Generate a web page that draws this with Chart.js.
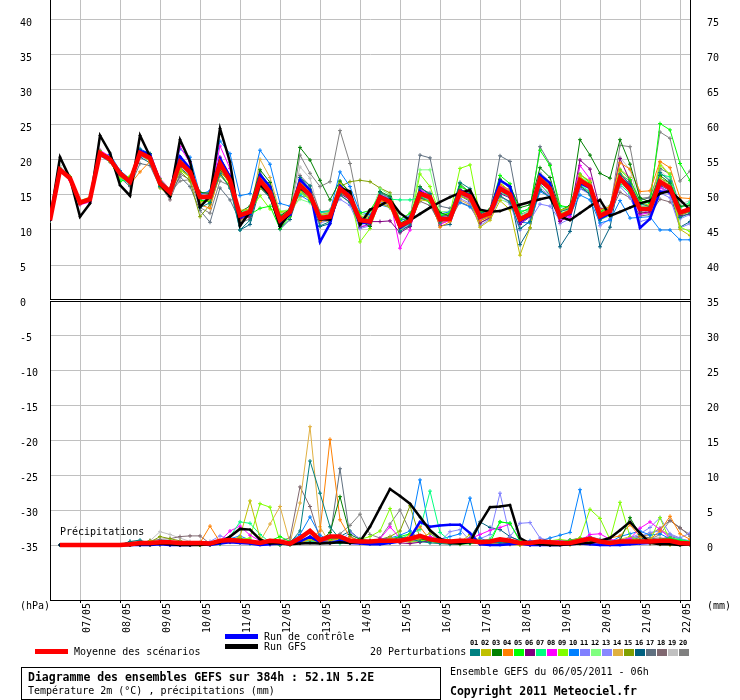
<!DOCTYPE html>
<html><head><meta charset="utf-8">
<script src="https://cdn.jsdelivr.net/npm/chart.js@4.4.0/dist/chart.umd.min.js"></script>
<style>
body{margin:0;background:#fff;}
#wrap{position:relative;width:740px;height:700px;overflow:hidden;font-family:"DejaVu Sans Mono",monospace;color:#000;}
#c{position:absolute;left:0;top:0;}
.t{position:absolute;font-size:10px;line-height:12px;white-space:pre;}
.b{font-weight:bold;font-size:11.5px;}
.bar{position:absolute;width:33px;height:5px;}
.sq{position:absolute;width:10px;height:7px;}
.num{position:absolute;font-size:7px;line-height:8px;font-weight:bold;width:11px;text-align:left;letter-spacing:-0.3px;}
#pleg{position:absolute;left:0;top:0;}
</style></head>
<body>
<div id="wrap">
<canvas id="c" width="740" height="700"></canvas>
<div class="t" style="left:60px;top:526px">Précipitations</div>
<div class="t" style="left:20px;top:600px">(hPa)</div>
<div class="t" style="left:707px;top:600px">(mm)</div>
<div class="bar" style="left:225px;top:634px;background:#0000ff"></div>
<div class="t" style="left:264px;top:631px">Run de contrôle</div>
<div class="bar" style="left:225px;top:644px;background:#000000"></div>
<div class="t" style="left:264px;top:641px">Run GFS</div>
<div class="bar" style="left:35px;top:649px;background:#ff0000"></div>
<div class="t" style="left:74px;top:646px">Moyenne des scénarios</div>
<div class="t" style="left:370px;top:646px">20 Perturbations</div>
<div id="pleg"></div>
<div style="position:absolute;left:21px;top:667px;width:418px;height:31px;border:1px solid #000"></div>
<div class="t b" style="left:28px;top:671px">Diagramme des ensembles GEFS sur 384h : 52.1N 5.2E</div>
<div class="t" style="left:28px;top:685px">Température 2m (°C) , précipitations (mm)</div>
<div class="t" style="left:450px;top:666px">Ensemble GEFS du 06/05/2011 - 06h</div>
<div class="t b" style="left:450px;top:685px">Copyright 2011 Meteociel.fr</div>
</div>
<script>
// ---- time axis (hours since 06/05 06h) ----
const hours = [0,6,12,18,24,30,36,42,48,54,60,66,72,78,84,90,96,102,108,114,120,126,132,138,144,150,156,162,168,174,180,186,192,198,204,210,216,222,228,234,240,246,252,258,264,270,276,282,288,294,300,306,312,318,324,330,336,342,348,354,360,366,372,378,384];
const dateTickHours = [18,42,66,90,114,138,162,186,210,234,258,282,306,330,354,378];
const dateLabels = ['07/05','08/05','09/05','10/05','11/05','12/05','13/05','14/05','15/05','16/05','17/05','18/05','19/05','20/05','21/05','22/05'];
const leftTicks = [40,35,30,25,20,15,10,5,0,-5,-10,-15,-20,-25,-30,-35];
const rightTicks = [75,70,65,60,55,50,45,40,35,30,25,20,15,10,5,0];
const pertNames = ['01','02','03','04','05','06','07','08','09','10','11','12','13','14','15','16','17','18','19','20'];

// ---- temperature 2m (°C) ----
const tMean = [11.4, 18.6,17.4,13.9,14.4,21.0,20.1,18.1,16.9, 21.0,20.3,16.7,15.4,19.7,18.3,14.7,14.7, 19.5,17.1,12.1,12.6,17.1,15.4,11.4,12.6, 16.4,15.0,11.7,11.9,15.9,14.7,11.4,11.2, 14.7,14.0,10.6,11.3,15.2,14.7,11.5,11.6, 15.4,14.8,11.9,12.4,15.9,15.1,11.5,12.3, 17.3,15.9,11.9,12.6,17.1,16.2,12.0,12.7, 17.4,15.8,13.0,13.0,16.9,16.0,12.5,13.0];
const tGfs = [11.4, 20.4,17.4,11.9,13.8,23.5,21.0,16.4,14.9, 23.5,20.5,16.5,14.8,22.9,19.8,13.3,14.8, 24.5,19.7,10.6,12.6,16.5,15.0,10.5,12.5, 16.0,15.0,11.5,11.5,16.0,15.5,10.8,12.9, 13.5,14.3,12.4,11.4,12.3,13.2,14.0,14.7, 15.3,15.7,12.9,12.6,12.7,13.2,13.6,14.0, 14.4,14.7,11.9,11.4,12.4,13.4,14.3,12.0, 12.6,13.2,13.8,14.2,15.2,15.6,14.3,12.9];
const tCtrl = [11.4, 18.5,17.3,13.8,14.3,20.8,20.0,17.9,16.8, 21.3,20.8,16.9,15.6,20.5,18.8,14.6,14.8, 20.2,17.6,11.8,12.3,17.9,16.2,11.0,12.2, 17.2,15.7,8.3,10.9,16.3,15.0,11.0,11.0, 14.9,14.2,10.3,11.2,15.5,14.6,11.4,11.6, 15.6,15.0,11.8,12.6,17.1,16.2,11.2,12.1, 17.9,16.7,11.8,12.4,16.7,16.0,11.7,12.3, 17.6,16.2,10.3,11.6,15.5,15.4,12.6,12.9];
const tP01 = [11.4, 18.7,17.3,13.8,14.6,20.9,20.0,18.3,16.6, 21.5,20.6,16.2,15.6,20.4,18.8,13.2,13.9, 18.1,16.0,10.0,11.4,16.3,14.6,10.5,12.2, 17.5,16.3,10.6,11.2,15.0,13.9,10.6,11.8, 15.4,14.6,9.8,10.7,16.0,15.2,11.0,12.2, 16.8,15.9,12.4,12.8,14.9,14.0,10.2,11.2, 15.8,14.6,12.6,13.1,16.4,15.0,11.4,12.3, 18.0,16.6,13.8,13.3,18.2,17.0,11.8,12.4];
const tP02 = [11.4, 18.5,17.5,14.1,14.5,21.2,20.3,17.6,16.8, 20.8,19.8,16.0,14.9,18.8,17.5,14.0,14.2, 18.9,16.5,12.8,13.0,16.0,14.8,11.0,12.3, 15.5,14.4,12.2,12.5,16.6,15.2,12.0,11.6, 13.8,13.2,10.2,11.0,14.3,14.1,11.4,11.7, 14.8,14.3,10.4,11.4,14.2,12.9,6.4,10.3, 17.6,16.7,12.8,13.3,17.9,17.0,12.4,13.0, 18.4,16.3,13.9,13.5,17.5,16.3,10.1,9.2];
const tP03 = [11.4, 18.6,17.4,14.0,14.3,21.1,20.4,17.9,17.0, 21.3,20.9,16.3,15.2,20.3,18.6,15.4,15.2, 18.7,16.6,12.6,13.4,18.6,16.8,12.0,13.0, 21.8,20.0,17.1,14.3,17.0,15.3,11.3,10.5, 15.5,14.8,10.9,11.8,16.2,15.0,12.5,12.0, 16.6,15.3,12.3,13.0,17.2,16.2,13.2,13.6, 18.9,17.5,12.8,13.5,22.9,20.7,18.1,17.4, 22.9,19.4,14.6,14.0,17.8,16.7,13.4,13.5];
const tP04 = [11.4, 18.4,17.2,13.7,14.2,20.7,19.9,17.8,16.5, 18.3,19.8,17.1,15.9,19.3,17.8,13.6,13.1, 18.3,16.8,12.4,12.9,17.8,15.9,11.6,12.8, 16.0,14.5,11.2,12.1,16.6,15.0,10.9,11.0, 14.2,13.6,10.7,11.5,15.0,14.4,10.4,11.2, 15.6,14.6,11.3,11.9,16.5,15.7,11.6,12.4, 16.9,16.1,11.9,12.8,17.4,16.4,12.9,13.3, 19.6,18.7,15.5,15.6,19.8,18.9,14.6,14.5];
const tP05 = [11.4, 18.8,17.6,14.0,14.5,21.3,20.0,16.9,17.5, 21.4,20.5,17.3,15.6,19.9,18.5,14.3,14.0, 19.1,17.4,12.3,12.2,13.1,13.4,10.2,11.9, 15.8,14.2,11.3,12.0,15.4,14.6,12.4,12.8, 15.0,14.2,11.5,12.4,14.8,14.0,12.0,12.4, 16.2,15.5,12.6,12.8,17.8,16.6,12.4,13.2, 21.4,19.2,13.5,13.2,18.0,16.8,12.6,13.4, 18.6,17.2,14.2,13.8,25.2,24.3,19.5,17.1];
const tP06 = [11.4, 18.5,17.3,13.9,14.4,21.0,20.2,18.2,17.1, 20.7,20.1,17.0,15.5,19.2,17.9,14.8,15.1, 20.4,17.8,11.6,11.9,16.6,15.1,11.2,12.0, 16.1,14.7,11.6,11.4,15.2,14.3,11.8,11.2, 11.2,11.3,9.6,10.5,14.6,14.1,11.9,12.1, 15.8,15.1,11.0,11.8,15.2,14.6,10.8,11.9, 16.8,15.6,11.2,12.3,20.0,18.7,13.0,13.2, 20.2,17.0,12.4,12.6,16.4,15.6,12.0,12.3];
const tP07 = [11.4, 18.7,17.5,14.0,14.5,21.1,20.2,17.2,16.8, 21.2,20.4,16.5,15.1,20.1,18.1,14.1,14.4, 19.8,17.5,12.6,12.9,16.9,15.6,12.1,12.6, 15.2,14.5,12.5,12.7,16.4,14.8,11.9,11.5, 14.5,14.4,14.3,14.3,14.6,13.9,12.3,12.0, 15.0,14.7,12.5,12.9,15.3,14.8,12.7,12.9, 17.6,16.0,13.3,13.3,16.4,15.5,12.2,12.6, 16.5,15.2,13.6,14.0,17.9,17.6,13.2,14.0];
const tP08 = [11.4, 18.5,17.1,13.6,14.0,21.4,20.5,18.0,16.9, 21.1,20.6,17.4,15.8,21.9,19.6,14.4,14.6, 22.0,18.8,12.0,12.3,16.8,15.2,10.8,12.4, 16.6,15.3,11.2,12.4,16.2,14.9,10.5,10.7, 14.9,14.4,7.4,10.0,15.8,15.0,10.8,11.4, 15.2,14.3,11.6,12.3,16.3,15.4,11.0,12.0, 16.9,15.8,11.3,11.9,19.2,17.3,12.3,13.0, 17.7,15.9,12.2,12.5,16.0,15.3,12.8,12.9];
const tP09 = [11.4, 18.6,17.6,14.2,14.7,20.8,19.8,17.3,17.7, 21.0,20.0,16.4,15.2,18.6,17.5,14.5,14.9, 18.1,16.3,12.8,12.6,14.9,13.0,12.6,12.8, 16.8,15.6,11.9,12.3,16.9,15.3,8.3,10.2, 14.4,13.5,10.1,11.0,18.0,16.2,12.2,12.4, 18.8,19.3,12.0,12.6,17.0,15.2,11.8,12.6, 17.8,16.3,12.3,12.9,17.6,16.6,12.9,13.2, 17.0,15.8,12.5,12.4,19.2,18.0,10.4,9.8];
const tP10 = [11.4, 18.4,17.4,13.8,14.3,20.6,20.8,18.5,17.3, 21.6,20.9,17.0,15.9,21.6,20.4,15.1,15.6, 22.7,20.9,14.9,15.2,21.4,19.4,13.8,13.4, 15.0,14.1,12.6,12.6,18.3,16.2,12.6,12.2, 13.6,13.2,11.3,11.9,15.2,14.4,12.3,12.6, 13.9,13.3,12.1,12.3,15.6,14.7,11.1,11.0, 15.5,14.7,11.8,12.2,15.0,14.3,11.0,11.4, 14.2,11.7,11.8,11.9,10.0,10.0,8.6,8.6];
const tP11 = [11.4, 18.6,17.3,14.0,14.6,20.9,20.1,18.0,16.7, 20.6,20.0,16.8,15.3,19.4,18.2,15.0,14.9, 19.6,17.2,11.8,12.2,17.3,15.5,11.1,12.3, 16.0,14.5,12.4,12.8,14.4,13.5,10.2,10.6, 14.0,13.6,11.6,12.0,14.8,14.3,11.2,11.5, 14.5,13.8,10.6,11.6,15.0,13.7,10.0,11.4, 13.7,13.4,11.4,12.2,15.9,15.1,11.7,12.2, 16.2,14.7,11.2,11.6,15.3,14.6,10.3,10.9];
const tP12 = [11.4, 18.7,17.4,13.9,14.3,21.2,20.3,18.4,17.2, 21.0,20.2,16.6,15.1,19.9,18.4,14.9,15.0, 19.0,17.0,12.4,12.8,17.6,15.8,12.7,12.9, 14.4,13.9,12.2,12.4,16.0,14.8,12.2,12.1, 15.9,15.0,11.0,11.8,18.6,18.6,12.6,12.7, 16.2,15.4,12.2,12.7,14.4,13.8,12.0,12.9, 16.4,15.3,12.6,13.2,17.9,16.6,11.5,12.0, 16.9,15.4,13.3,13.4,16.6,15.8,13.1,13.8];
const tP13 = [11.4, 18.5,17.5,14.1,14.4,20.8,20.0,18.1,17.0, 21.2,20.5,16.9,15.6,19.6,18.4,14.6,14.3, 19.2,17.0,12.2,12.7,16.7,15.0,11.5,12.5, 16.9,15.5,11.0,11.5,15.6,14.2,11.6,11.4, 15.1,14.3,9.9,10.9,15.5,15.0,11.3,11.3, 15.1,14.4,12.3,12.6,16.0,15.4,12.2,12.5, 16.0,14.9,10.9,11.6,16.5,15.8,10.6,11.6, 16.8,15.4,12.3,12.9,16.3,15.1,11.6,12.2];
const tP14 = [11.4, 18.6,17.3,13.8,14.5,21.0,20.2,17.9,16.8, 21.2,20.3,16.6,15.2,20.0,18.1,14.9,14.4, 19.8,16.6,11.4,11.9,20.1,17.5,12.5,12.4, 14.7,14.9,11.1,11.3,15.2,14.5,11.7,11.9, 14.8,14.3,10.4,11.1,15.0,14.8,11.0,11.4, 14.3,13.6,11.4,12.0,16.5,15.5,11.3,12.1, 17.7,16.3,12.6,13.3,17.3,16.0,11.8,12.5, 18.7,17.5,13.2,13.6,19.6,17.7,12.7,13.2];
const tP15 = [11.4, 18.6,17.5,14.0,14.4,21.0,20.0,18.2,17.2, 20.9,20.1,16.5,15.0,18.4,17.0,11.9,13.6, 17.8,16.2,12.3,12.5,16.5,15.0,11.9,12.6, 16.3,15.0,12.6,12.8,16.2,16.9,17.1,16.9, 16.0,15.3,11.4,11.7,14.9,14.3,11.4,11.8, 15.6,15.2,12.1,12.5,16.1,15.3,11.9,12.4, 17.1,15.8,12.0,12.6,17.3,16.4,12.6,13.0, 17.6,16.1,13.4,13.1,17.4,16.7,12.1,12.6];
const tP16 = [11.4, 18.4,17.2,13.7,14.2,20.8,19.9,17.8,16.4, 20.4,19.6,16.3,14.8,18.9,17.7,14.2,14.1, 19.0,16.7,10.0,10.8,16.0,14.7,10.1,11.5, 15.8,14.4,10.5,10.9,15.4,14.4,10.4,10.8, 14.6,13.8,10.2,10.5,14.6,14.0,10.6,10.8, 14.9,14.1,11.4,12.0,16.5,15.3,7.9,10.3, 16.6,15.0,7.6,9.8,16.0,15.2,7.6,10.4, 17.6,16.4,12.6,12.4,16.2,15.3,10.4,11.2];
const tP17 = [11.4, 18.5,17.3,13.9,14.3,20.6,19.7,17.5,16.2, 19.5,19.2,16.1,15.0,17.6,16.2,12.8,11.1, 16.0,14.3,11.3,12.0,18.3,16.0,11.8,12.4, 17.5,15.8,12.0,12.3,15.8,14.6,11.6,11.5, 14.0,13.6,10.8,11.6,20.7,20.3,13.4,13.1, 14.8,14.4,12.5,12.8,20.6,19.8,12.2,12.8, 21.9,19.4,12.8,12.9,16.0,15.2,12.4,12.9, 18.0,17.0,14.3,14.6,18.8,18.0,13.3,13.6];
const tP18 = [11.4, 18.6,17.4,14.0,14.5,20.9,20.0,18.0,16.9, 20.8,20.2,16.4,14.3,18.0,17.2,15.1,15.4, 18.2,16.0,11.0,11.6,16.2,14.6,11.4,12.2, 17.8,16.3,12.6,12.6,15.0,14.0,11.1,11.2, 13.8,13.4,10.8,11.5,14.1,13.5,10.9,11.4, 14.0,13.4,11.0,11.7,14.7,14.1,11.3,12.0, 15.7,14.8,11.6,12.3,16.2,15.4,11.8,12.4, 15.4,14.6,12.0,12.2,14.4,14.0,12.3,12.6];
const tP19 = [11.4, 19.2,17.6,14.1,14.6,20.8,19.8,17.7,16.6, 20.9,20.2,16.9,15.9,18.8,17.6,14.3,14.1, 18.6,16.9,12.4,12.9,17.0,15.7,12.3,12.8, 19.0,17.4,12.1,12.5,16.8,15.6,12.3,12.1, 14.2,14.0,11.6,12.2,15.7,15.4,11.8,12.0, 15.9,15.1,12.2,12.8,16.2,15.6,12.6,13.0, 18.2,16.9,12.4,12.8,17.6,16.3,13.2,13.5, 20.4,18.6,13.6,13.3,18.5,17.1,13.7,14.2];
const tP20 = [11.4, 18.9,17.5,14.1,14.6,20.9,20.0,18.0,16.8, 20.6,19.9,16.6,15.3,17.0,17.2,13.2,12.4, 17.0,16.3,11.6,12.3,16.6,14.8,11.1,12.1, 20.7,18.1,16.2,16.9,24.2,19.5,12.4,11.8, 15.3,14.4,10.9,11.5,14.8,14.3,12.1,12.0, 15.1,14.4,11.5,12.1,17.3,15.9,11.7,12.3, 18.0,16.3,12.0,12.5,17.2,16.1,12.6,12.8, 22.1,21.9,14.5,14.7,24.0,23.1,17.0,18.4];

// ---- precipitation (mm / 6h) ----
const pMean = [null, 0,0,0,0,0,0,0,0.1, 0.3,0.3,0.4,0.4,0.3,0.3,0.3,0.2, 0.6,0.7,0.6,0.5,0.3,0.6,0.5,0.2, 1.0,2.0,0.7,1.2,1.2,0.6,0.5,0.5, 0.6,0.6,0.6,0.9,1.3,0.8,0.6,0.5, 0.6,0.6,0.4,0.5,0.8,0.6,0.3,0.3, 0.5,0.4,0.3,0.3,0.6,0.9,0.5,0.3, 0.5,0.5,0.5,0.5,0.6,0.6,0.3,0.2];
const pGfs = [null, 0,0,0,0,0,0,0,0, 0.1,0.1,0.2,0.1,0,0,0,0.1, 0.4,1.2,2.3,2.2,0.8,0.2,0.3,0.1, 0.2,0.3,0.2,0.3,0.4,0.3,0.5,2.6, 5.3,8.0,7.0,5.9,4.0,2.1,0.9,0.3, 0.2,0.4,3.1,5.4,5.5,5.7,1.0,0.2, 0.1,0,0,0.1,0.2,0.3,0.6,1.0, 2.1,3.3,1.7,0.3,0.1,0.1,0,0.1];
const pCtrl = [null, 0,0,0,0,0,0,0,0, 0,0,0.1,0,0,0,0.1,0, 0.2,0.4,0.3,0.2,0,0.1,0.2,0.1, 0.5,1.2,0.4,0.3,0.6,0.3,0.2,0.1, 0.1,0.3,0.5,1.0,3.3,2.6,2.8,2.9, 2.9,1.7,0.1,0,0,0.1,0.2,0, 0,0,0,0.1,0.2,0.1,0,0, 0,0.1,0.2,0.3,0.5,0.6,0.3,0.1];
const pP01 = [null, 0,0,0,0,0,0,0,0.5, 0.7,0.2,0.1,0,0,0.2,0.3,0.1, 0.5,0.8,0.4,0.2,0.3,0.1,0,0.3, 2.0,12.0,7.4,2.6,0.8,0.3,0.5,0.4, 0.2,0.6,1.1,0.9,0.5,0.3,0.2,0.1, 0.2,0.3,0.6,0.4,0.3,0.2,0.1,0, 0,0.1,0.3,0.2,0.5,0.8,0.4,0.3, 0.2,0.5,0.7,0.6,0.4,0.2,0.3,0.1];
const pP02 = [null, 0,0,0,0,0,0,0,0, 0.2,0.6,0.4,0.3,0.2,0.1,0,0, 0.3,0.6,1.2,6.3,1.0,0.2,0,0.4, 0.5,0.8,0.3,0.6,0.9,0.4,0.2,0.3, 0.5,1.0,0.8,0.6,0.9,1.7,0.5,0.3, 0.4,1.5,0.6,0.3,0.2,0.1,0,0.2, 0.5,0.3,0.1,0,0.2,0.4,0.3,0.2, 0.1,0.3,0.5,0.2,0.1,0,0.2,0.1];
const pP03 = [null, 0,0,0,0,0,0,0,0, 0,0.1,0.3,0.2,0.1,0,0,0.1, 0.2,0.5,0.4,0.3,0.2,0.3,0.1,0, 0.6,1.2,0.5,1.8,6.9,1.5,0.8,0.6, 0.4,0.3,0.5,0.7,0.9,0.6,0.8,0.5, 0.4,0.3,0.2,0.3,0.5,0.3,0.2,0.1, 0.1,0,0.2,0.3,0.5,0.6,0.4,0.3, 0.6,3.9,1.5,0.4,0.2,0.1,0,0];
const pP04 = [null, 0,0,0,0,0,0,0,0, 0,0,0.1,0.2,0.1,0,0.3,2.7, 0.4,0.5,0.6,0.3,0.2,0.4,0.1,0.2, 0.3,0.8,2.0,15.1,3.6,1.1,0.6,0.4, 0.3,0.5,0.6,1.4,2.6,0.7,0.4,0.3, 0.2,0.4,0.6,0.3,0.2,0.1,0,0.1, 0.2,0.3,0.2,0.4,0.8,0.6,0.5,1.0, 1.3,2.9,1.2,0.8,2.0,4.1,1.6,0.8];
const pP05 = [null, 0,0,0,0,0,0,0,0, 0,0,0.2,0.4,0.2,0.1,0,0, 0.2,0.6,1.0,0.4,0.3,0.6,1.2,0.5, 0.4,0.9,0.6,0.8,1.0,0.4,0.3,0.2, 0.4,0.8,1.2,1.6,1.0,0.5,0.3,0.2, 0.1,0.2,0.4,0.3,3.3,3.1,0.6,0.2, 0.1,0.2,0.4,0.6,0.8,1.0,0.6,0.4, 0.3,0.5,0.6,0.4,0.8,1.0,0.6,0.5];
const pP06 = [null, 0,0,0,0,0,0,0,0, 0.1,0.2,0.1,0,0,0.1,0.2,0.1, 0.3,0.5,0.7,0.4,0.2,0.1,0.2,0.3, 0.5,0.9,0.4,0.3,0.5,0.3,0.4,0.6, 0.8,0.5,0.3,0.2,0.4,0.6,0.3,0.2, 0.3,0.5,0.2,0.1,0.2,0.4,0.3,0.1, 0,0.1,0.2,0.3,0.6,0.4,0.2,0.1, 0.2,0.4,0.3,0.2,0.3,0.5,0.4,0.3];
const pP07 = [null, 0,0,0,0,0,0,0,0, 0,0,0.1,0.3,0.2,0.1,0,0.1, 0.4,1.2,3.3,3.1,1.5,0.4,0.2,0.3, 0.5,0.6,0.4,0.3,0.2,0.4,0.6,0.5, 0.3,0.5,0.8,1.6,2.2,7.7,1.8,0.6, 0.3,0.4,0.5,0.8,3.3,3.1,0.5,0.3, 0.2,0.4,0.5,0.6,0.7,0.5,0.3,0.2, 0.3,0.4,0.6,0.8,0.5,1.0,0.8,0.5];
const pP08 = [null, 0,0,0,0,0,0,0,0, 0,0.1,0.2,0.1,0,0,0.1,0.2, 0.6,2.0,2.7,1.4,0.6,0.3,0.2,0.4, 0.6,0.8,0.5,0.7,0.9,0.6,0.4,0.5, 0.9,2.6,1.0,0.6,0.8,1.2,0.8,0.5, 0.4,0.9,1.5,2.1,2.5,3.0,0.8,0.4, 0.3,0.5,0.6,0.4,0.6,1.5,1.6,0.8, 0.6,0.9,2.4,3.3,2.2,1.0,0.6,0.4];
const pP09 = [null, 0,0,0,0,0,0,0,0, 0,0,0.2,0.5,0.3,0.1,0,0.1, 0.3,0.6,0.8,1.0,5.9,5.4,0.5,0.3, 0.4,0.7,0.6,0.5,0.4,0.3,0.8,1.2, 2.0,5.2,0.9,0.5,0.6,0.8,0.4,0.3, 0.2,0.3,0.4,0.5,0.7,0.4,0.3,0.2, 0.3,0.6,0.8,0.6,1.0,5.1,3.8,0.8, 6.1,1.2,0.6,0.5,3.9,0.6,0.4,0.3];
const pP10 = [null, 0,0,0,0,0,0,0,0, 0,0.1,0.2,0.3,0.2,0.1,0.1,0.2, 0.5,0.9,1.3,0.7,0.4,0.3,0.2,0.5, 1.5,4.0,1.4,0.6,0.5,0.4,0.3,0.5, 0.8,1.0,1.4,2.0,9.3,1.6,0.8,1.2, 1.6,6.7,1.0,0.4,0.3,0.2,0.4,0.6, 0.6,1.0,1.4,1.8,7.9,0.9,0.6,0.4, 1.2,1.6,2.0,1.4,1.6,0.9,0.5,0.3];
const pP11 = [null, 0,0,0,0,0,0,0,0, 0,0,0.1,0.2,0.3,0.2,0.1,0, 0.2,0.8,1.0,0.5,0.3,0.2,0.4,0.6, 0.8,0.6,0.4,0.5,0.6,1.8,0.9,0.5, 0.4,0.6,0.8,0.5,0.6,0.9,0.7,0.4, 0.3,0.5,0.9,1.5,7.4,1.2,3.1,3.2, 1.0,0.6,0.5,0.4,0.6,0.8,0.5,0.4, 0.6,1.0,1.6,2.5,3.9,1.6,1.0,1.7];
const pP12 = [null, 0,0,0,0,0,0,0,0, 0,0.1,0.3,0.2,0.1,0,0,0, 0.1,0.4,0.6,0.5,0.3,0.4,0.2,0.3, 0.5,0.8,0.6,0.4,0.5,0.7,0.4,0.3, 0.5,0.7,0.6,0.8,1.2,0.9,0.5,0.4, 0.3,0.5,0.4,0.6,0.8,0.5,0.3,0.2, 0.3,0.4,0.6,0.5,0.7,0.9,0.6,0.4, 0.5,0.7,0.8,0.6,0.8,0.7,0.5,0.4];
const pP13 = [null, 0,0,0,0,0,0,0,0, 0,0,0.1,0.2,0.4,0.3,0.2,0.5, 1.3,0.8,0.6,0.4,0.5,0.3,0.2,0.3, 0.4,0.6,0.8,1.0,0.6,0.4,0.3,0.5, 0.6,0.4,0.5,0.9,1.3,0.8,0.5,1.9, 2.2,0.6,0.4,0.3,0.4,0.6,0.5,0.3, 0.2,0.4,0.6,0.5,0.8,1.1,0.7,0.5, 0.6,0.9,1.2,1.8,2.0,1.4,0.9,0.6];
const pP14 = [null, 0,0,0,0,0,0,0,0, 0,0,0,0.1,0.2,0.1,0,0.3, 0.5,0.4,0.3,0.6,0.5,3.0,5.5,0.3, 6.0,16.9,2.6,0.2,0.5,0.8,0.4,0.3, 0.5,0.9,0.6,0.4,0.7,1.0,0.6,0.4, 0.3,0.5,0.8,0.6,0.4,0.3,0.2,0.1, 0.2,0.3,0.5,0.4,0.6,0.8,0.6,0.5, 0.8,1.2,0.9,1.6,2.2,1.5,0.8,0.5];
const pP15 = [null, 0,0,0,0,0,0,0,0, 0.1,0.4,1.2,0.9,0.6,0.3,0.2,0.1, 0.3,0.5,0.7,0.4,0.6,0.3,0.2,0.4, 0.6,1.0,0.8,0.5,0.4,0.6,0.3,0.4, 0.8,1.2,2.0,5.6,1.0,0.6,0.4,0.3, 0.2,0.4,0.6,0.8,0.5,0.3,0.4,0.2, 0.3,0.5,0.4,0.6,0.9,0.7,0.5,0.3, 0.5,0.8,0.6,0.4,0.6,0.9,0.7,0.4];
const pP16 = [null, 0,0,0,0,0,0,0,0.5, 0.3,0.6,0.4,0.2,0.1,0.2,0.3,0.2, 0.4,0.6,0.5,0.3,0.2,0.4,0.3,0.2, 0.5,0.8,1.0,0.6,1.2,2.0,0.8,0.5, 0.4,0.6,0.5,0.7,0.9,1.1,0.6,0.4, 0.5,1.0,3.3,2.5,2.2,1.2,0.6,0.3, 0.2,0.4,0.6,0.5,0.8,1.0,0.7,0.4, 0.6,0.8,1.0,0.7,0.5,0.6,0.4,0.3];
const pP17 = [null, 0,0,0,0,0,0,0,0, 0,0.1,0.2,0.3,0.2,0.1,0,0.1, 0.3,0.5,0.4,0.6,0.4,0.3,0.5,0.4, 0.6,0.9,0.5,1.0,10.9,1.2,0.6,0.4, 0.5,0.8,1.2,0.9,0.6,0.5,0.4,0.6, 0.8,0.5,0.4,0.3,0.5,0.7,0.4,0.3, 0.2,0.4,0.5,0.7,1.0,0.8,0.6,0.5, 0.7,0.9,1.3,1.0,0.8,1.2,0.9,0.5];
const pP18 = [null, 0,0,0,0,0,0,0,0, 0.3,0.6,0.8,0.9,1.2,1.3,1.3,0.2, 0.3,0.5,0.4,0.3,0.5,0.4,0.6,1.0, 8.3,5.5,0.8,0.4,0.6,0.5,0.4,0.3, 0.5,0.7,0.6,0.4,0.5,0.8,0.6,0.4, 0.3,0.4,0.6,0.5,0.4,0.3,0.2,0.3, 0.4,0.6,0.5,0.7,0.9,1.2,0.8,0.6, 0.7,1.0,1.2,1.5,2.4,3.5,2.4,1.5];
const pP19 = [null, 0,0,0,0,0,0,0,0, 0.2,0.6,1.9,1.5,1.0,0.5,0.3,0.2, 0.4,0.6,0.5,0.4,0.3,0.5,0.4,0.3, 0.5,0.7,0.6,0.4,0.5,0.6,0.8,0.5, 0.4,0.6,0.8,0.5,0.4,0.6,0.5,0.3, 0.4,0.5,0.6,0.4,0.3,0.5,0.4,0.3, 0.2,0.4,0.5,0.6,0.8,0.7,0.5,0.4, 0.6,0.8,0.7,0.9,1.1,0.8,0.6,0.4];
const pP20 = [null, 0,0,0,0,0,0,0,0, 0.1,0.3,0.5,0.4,0.3,0.2,0.1,0.2, 0.4,0.6,0.5,0.3,0.4,0.5,0.3,0.4, 0.6,0.8,0.5,0.7,1.6,2.8,4.4,1.5, 1.0,3.0,5.0,2.0,0.8,0.6,0.4,0.3, 0.5,0.8,0.6,0.4,0.5,1.2,0.6,0.3, 0.4,0.6,0.5,0.7,0.8,1.0,0.7,0.5, 0.6,0.9,1.1,0.8,1.5,3.5,2.5,1.2];

const tPerts = [tP01,tP02,tP03,tP04,tP05,tP06,tP07,tP08,tP09,tP10,tP11,tP12,tP13,tP14,tP15,tP16,tP17,tP18,tP19,tP20];
const pPerts = [pP01,pP02,pP03,pP04,pP05,pP06,pP07,pP08,pP09,pP10,pP11,pP12,pP13,pP14,pP15,pP16,pP17,pP18,pP19,pP20];
const pertColors = ['#008080','#c0c000','#008000','#ff8000','#00ff00','#800080','#00ff80','#ff00ff','#80ff00','#0080ff','#8080ff','#80ff80','#8888ff','#e0b040','#80a000','#006080','#607080','#806870','#c0c0c0','#808080'];

// legend squares
const pleg = document.getElementById('pleg');
pertNames.forEach((n,i)=>{
  const s=document.createElement('div'); s.className='sq';
  s.style.left=(470+11*i)+'px'; s.style.top='649px'; s.style.background=pertColors[i]; pleg.appendChild(s);
  const t=document.createElement('div'); t.className='num'; t.textContent=n;
  t.style.left=(470+11*i)+'px'; t.style.top='639px'; pleg.appendChild(t);
});

function series(values, axis, color, width, order, radius){
  return {
    data: values.map((v,i)=>({x: hours[i], y: v})),
    yAxisID: axis, borderColor: color, backgroundColor: color,
    borderWidth: width, pointRadius: radius, pointStyle: 'cross',
    pointBorderColor: color, pointBorderWidth: 1, pointHoverRadius: 0,
    tension: 0, fill: false, order: order
  };
}
const datasets = [];
datasets.push(series(tMean,'y','#ff0000',4.5,0,0));
datasets.push(series(pMean,'y2','#ff0000',4.5,0,0));
datasets.push(series(tGfs,'y','#000000',2.5,1,1.5));
datasets.push(series(pGfs,'y2','#000000',2.5,1,1.5));
datasets.push(series(tCtrl,'y','#0000ff',2.5,2,1.5));
datasets.push(series(pCtrl,'y2','#0000ff',2.5,2,1.5));
tPerts.forEach((d,i)=>datasets.push(series(d,'y',pertColors[i],1,3+i,2)));
pPerts.forEach((d,i)=>datasets.push(series(d,'y2',pertColors[i],1,3+i,2)));

const FONT = {family:'"DejaVu Sans Mono", monospace', size:10};
const separator = {
  id:'separator',
  afterDatasetsDraw(chart){
    const {ctx, chartArea:{left,right}} = chart;
    const y = Math.round(chart.scales.y.getPixelForValue(0));
    ctx.save();
    ctx.fillStyle='#ffffff'; ctx.fillRect(left, y-1, right-left, 3);
    ctx.fillStyle='#000000'; ctx.fillRect(left, y-1, right-left, 1); ctx.fillRect(left, y+1, right-left, 1);
    ctx.restore();
  }
};
function noPadV(s){ s.paddingTop = 0; s.paddingBottom = 0; }

new Chart(document.getElementById('c'), {
  type:'line',
  data:{datasets},
  plugins:[separator],
  options:{
    responsive:false, animation:false, devicePixelRatio:1,
    layout:{autoPadding:false, padding:{left:20,top:0,right:0,bottom:0}},
    plugins:{legend:{display:false}, tooltip:{enabled:false}},
    events:[],
    scales:{
      x:{type:'linear', min:0, max:384,
        afterBuildTicks:(s)=>{ s.ticks = dateTickHours.map(v=>({value:v})); },
        afterFit:(s)=>{ s.height = 100; s.paddingLeft = 0; s.paddingRight = 0; },
        ticks:{autoSkip:false, minRotation:90, maxRotation:90, padding:0, labelOffset:7, color:'#000', font:FONT,
          callback:(v,i)=>dateLabels[i]},
        grid:{color:'#c0c0c0', tickColor:'#000', tickLength:3},
        border:{color:'#000', width:1}
      },
      y:{type:'linear', position:'left', min:-300/7, max:300/7,
        afterBuildTicks:(s)=>{ s.ticks = leftTicks.map(v=>({value:v})); },
        afterFit:(s)=>{ s.width = 30; noPadV(s); },
        ticks:{crossAlign:'far', padding:0, labelOffset:3, color:'#000', font:FONT, callback:(v,i)=>String(leftTicks[i])},
        grid:{color:(c)=> (c.tick && c.tick.value===0) ? 'rgba(0,0,0,0)' : '#c0c0c0', drawTicks:false},
        border:{color:'#000', width:1}
      },
      y2:{type:'linear', position:'right', min:-55/7, max:545/7,
        afterBuildTicks:(s)=>{ s.ticks = rightTicks.map(v=>({value:v})); },
        afterFit:(s)=>{ s.width = 50; noPadV(s); },
        ticks:{crossAlign:'near', padding:17, labelOffset:3, color:'#000', font:FONT, callback:(v,i)=>String(rightTicks[i])},
        grid:{drawOnChartArea:false, drawTicks:false},
        border:{color:'#000', width:1}
      }
    }
  }
});
</script>
</body></html>
